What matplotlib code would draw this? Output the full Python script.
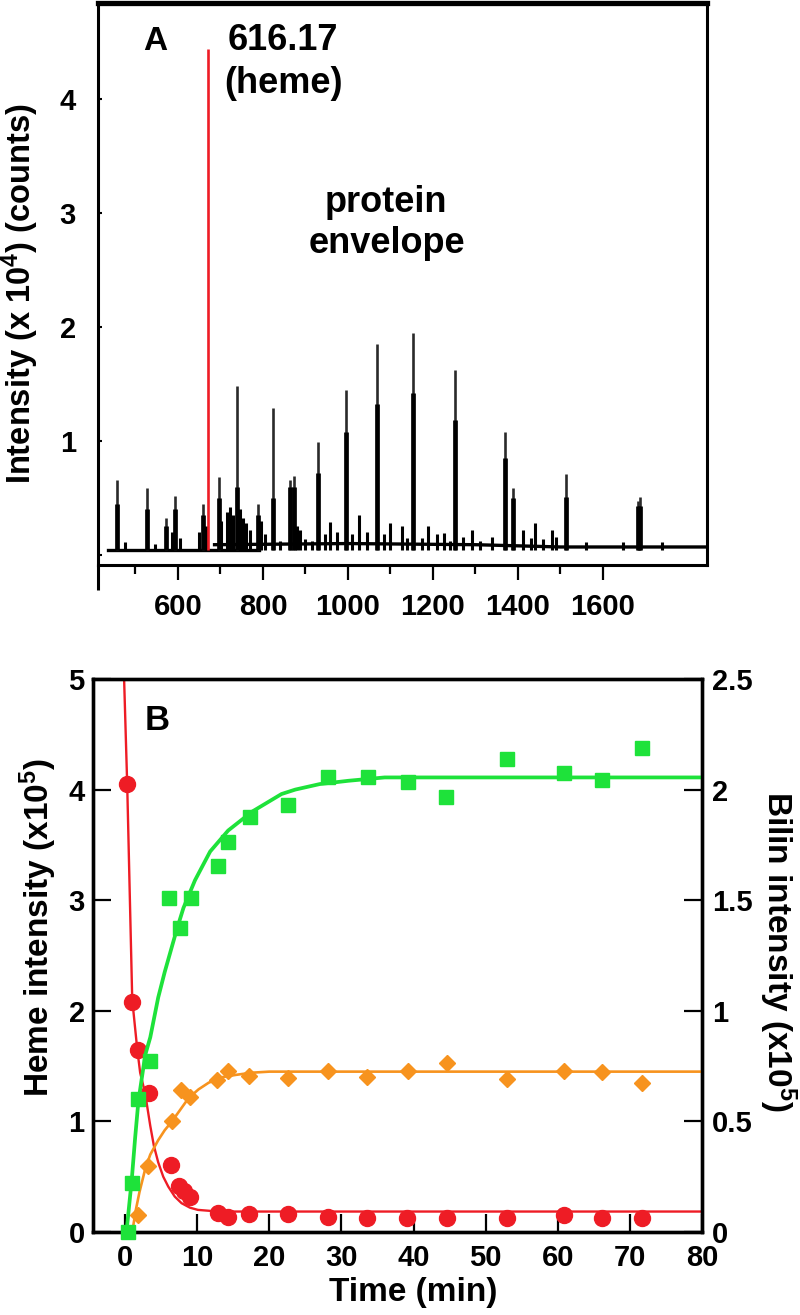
import matplotlib
matplotlib.use('Agg')
import matplotlib.pyplot as plt

plt.rcParams['font.family'] = ['Liberation Sans', 'DejaVu Sans']
plt.rcParams['font.weight'] = 'bold'
plt.rcParams['mathtext.fontset'] = 'custom'
plt.rcParams['mathtext.rm'] = 'Liberation Sans:bold'
plt.rcParams['mathtext.it'] = 'Liberation Sans:bold'
plt.rcParams['mathtext.bf'] = 'Liberation Sans:bold'
plt.rcParams['mathtext.default'] = 'rm'

# ---------------- Panel A data (m/z spectrum, intensity x 10^4) ----------------
major_mz = [456, 526, 571, 593, 660, 697, 738, 789, 824, 863, 872, 930, 995, 1068, 1154, 1252, 1369, 1388, 1513, 1683, 1688]
major_top = [0.66, 0.59, 0.32, 0.52, 0.45, 0.68, 1.48, 0.45, 1.29, 0.66, 0.69, 0.99, 1.45, 1.85, 1.95, 1.62, 1.08, 0.59, 0.71, 0.47, 0.51]
major_shoulder = [0.45, 0.40, 0.25, 0.40, 0.35, 0.50, 0.60, 0.35, 0.50, 0.60, 0.60, 0.72, 1.08, 1.32, 1.42, 1.18, 0.85, 0.50, 0.51, 0.43, 0.43]

minor_mz = [475, 545, 585, 605, 650, 665, 702, 715, 722, 730, 745, 752, 760, 770, 795, 805, 840, 880, 887,
            900, 915, 945, 958, 975, 1010, 1027, 1045, 1085, 1099, 1126, 1140, 1175, 1189, 1210, 1225, 1240,
            1270, 1292, 1310, 1340, 1412, 1430, 1440, 1460, 1479, 1490, 1560, 1646, 1738]
minor_int = [0.11, 0.10, 0.20, 0.15, 0.20, 0.25, 0.30, 0.38, 0.42, 0.35, 0.40, 0.32, 0.28, 0.22, 0.30, 0.18, 0.12, 0.25, 0.22,
             0.14, 0.12, 0.18, 0.29, 0.20, 0.18, 0.35, 0.20, 0.18, 0.28, 0.25, 0.15, 0.15, 0.25, 0.18, 0.19, 0.12,
             0.16, 0.22, 0.12, 0.16, 0.22, 0.15, 0.28, 0.14, 0.22, 0.16, 0.11, 0.11, 0.11]

low_base_mz = [435, 790]
low_base_int = [0.04, 0.04]
high_base_mz = [686, 1000, 1300, 1500, 1845]
high_base_int = [0.09, 0.10, 0.09, 0.07, 0.07]

heme_mz = 670
heme_top = 4.44

xticksA = [600, 800, 1000, 1200, 1400, 1600]
xminorA = [500, 700, 900, 1100, 1300, 1500]
yticksA = [0, 1, 2, 3, 4]
yticklabelsA = ['', '1', '2', '3', '4']

# ---------------- Panel B data ----------------
heme_t = [0.3, 1.0, 1.85, 3.3, 6.4, 7.5, 8.2, 9.0, 12.9, 14.3, 17.2, 22.6, 28.2, 33.5, 39.1, 44.6, 53.0, 60.8, 66.1, 71.7]
heme_v = [4.05, 2.08, 1.65, 1.26, 0.61, 0.42, 0.37, 0.32, 0.17, 0.14, 0.16, 0.16, 0.14, 0.13, 0.13, 0.13, 0.13, 0.15, 0.13, 0.13]
heme_fit_t = [-0.15, 0.3, 1.0, 1.7, 2.1, 2.8, 3.5, 4.0, 4.6, 5.3, 6.0, 6.9, 7.85, 9.0, 10.1, 12.0, 14.5, 80]
heme_fit_v = [5.05, 4.05, 2.1, 1.65, 1.44, 1.25, 0.96, 0.78, 0.63, 0.50, 0.41, 0.32, 0.26, 0.22, 0.20, 0.19, 0.185, 0.185]

green_t = [0.4, 0.9, 1.85, 3.5, 6.1, 7.6, 9.2, 12.9, 14.3, 17.3, 22.6, 28.2, 33.7, 39.3, 44.5, 53.0, 60.9, 66.2, 71.7]
green_v = [0.0, 0.22, 0.60, 0.775, 1.51, 1.375, 1.51, 1.655, 1.765, 1.875, 1.93, 2.055, 2.055, 2.035, 1.965, 2.14, 2.075, 2.045, 2.19]
green_fit_t = [0.2, 0.93, 1.4, 1.85, 2.8, 3.5, 4.6, 5.5, 6.5, 7.2, 8.1, 9.7, 11.8, 14.3, 17.6, 21.7, 23.6, 27, 31, 36, 80]
green_fit_v = [0.0, 0.235, 0.425, 0.59, 0.80, 0.88, 1.06, 1.175, 1.29, 1.37, 1.465, 1.59, 1.72, 1.815, 1.90, 1.98, 2.0, 2.025, 2.04, 2.055, 2.055]

orange_t = [1.85, 3.2, 6.5, 7.75, 9.0, 12.7, 14.3, 17.2, 22.6, 28.2, 33.5, 39.3, 44.6, 53.0, 60.8, 66.2, 71.7]
orange_v = [0.075, 0.30, 0.50, 0.64, 0.61, 0.685, 0.73, 0.705, 0.695, 0.73, 0.70, 0.73, 0.765, 0.69, 0.73, 0.725, 0.675]
orange_fit_t = [1.0, 1.5, 2.0, 2.8, 3.5, 4.6, 5.5, 6.5, 7.6, 8.8, 10.2, 11.6, 13.5, 15.3, 17.5, 20, 80]
orange_fit_v = [0.0, 0.10, 0.18, 0.285, 0.35, 0.415, 0.46, 0.50, 0.55, 0.605, 0.645, 0.675, 0.70, 0.71, 0.72, 0.725, 0.725]

xticksB = [0, 10, 20, 30, 40, 50, 60, 70, 80]
yticksB_left = [0, 1, 2, 3, 4, 5]
yticksB_right = [0, 0.5, 1, 1.5, 2, 2.5]
yticklabelsB_right = ['0', '0.5', '1', '1.5', '2', '2.5']

RED = '#EE1C25'
GREEN = '#1EE23A'
ORANGE = '#F7931E'

W, H = 800, 1315
fig = plt.figure(figsize=(W / 100, H / 100), dpi=100)


def fpos(x, y):
    return x / W, 1 - y / H


# ---------------- Panel A ----------------
axA = fig.add_axes([98 / W, 1 - 565 / H, 609 / W, 562 / H])
axA.set_xlim(411.8, 1844.7)
axA.set_ylim(-0.088, 4.84)

axA.plot(low_base_mz, low_base_int, color='k', lw=2.4)
axA.plot(high_base_mz, high_base_int, color='k', lw=2.4)
axA.vlines(minor_mz, 0.04, minor_int, color='k', lw=2.2)
axA.vlines(major_mz, 0.04, major_top, color='#2a2a2a', lw=1.9)
axA.vlines(major_mz, 0.04, major_shoulder, color='k', lw=3.4)
axA.vlines([heme_mz], 0.04, [heme_top], color=RED, lw=1.9)

for side in ['left', 'right', 'bottom']:
    axA.spines[side].set_linewidth(2.2)
axA.spines['top'].set_linewidth(3.8)
axA.plot([0, 0], [-25 / 562, 0], transform=axA.transAxes, color='k', lw=2.2,
         clip_on=False, solid_capstyle='butt')

axA.set_xticks(xticksA)
axA.set_xticks(xminorA, minor=True)
axA.set_yticks(yticksA)
axA.set_yticklabels(yticklabelsA)
axA.tick_params(axis='x', which='major', direction='out', length=11, width=1.6, labelsize=21, pad=9)
axA.tick_params(axis='x', which='minor', direction='out', length=6.5, width=1.6)
axA.tick_params(axis='y', which='major', direction='in', length=3, width=1.5, labelsize=21, pad=16)
for lab in axA.get_xticklabels() + axA.get_yticklabels():
    lab.set_fontweight('bold')

fig.text(*fpos(20, 294), 'Intensity (x 10$^4$) (counts)', rotation=90, ha='center', va='center',
         fontsize=23.5, fontweight='bold')
fig.text(*fpos(155, 50), 'A', ha='center', va='baseline', fontsize=24, fontweight='bold')
fig.text(*fpos(283, 50), '616.17', ha='center', va='baseline', fontsize=26, fontweight='bold')
fig.text(*fpos(283, 93), '(heme)', ha='center', va='baseline', fontsize=26, fontweight='bold')
fig.text(*fpos(386, 212), 'protein', ha='center', va='baseline', fontsize=26, fontweight='bold')
fig.text(*fpos(387, 253), 'envelope', ha='center', va='baseline', fontsize=26, fontweight='bold')

# ---------------- Panel B ----------------
axB = fig.add_axes([93 / W, 1 - 1232 / H, 609 / W, 553 / H])
axB.set_xlim(-4.44, 80)
axB.set_ylim(0, 5)
ax2 = axB.twinx()
ax2.set_ylim(0, 2.5)

axB.plot(heme_fit_t, heme_fit_v, color=RED, lw=1.7, zorder=2)
ax2.plot(orange_fit_t, orange_fit_v, color=ORANGE, lw=1.9, zorder=2)
ax2.plot(green_fit_t, green_fit_v, color=GREEN, lw=2.7, zorder=2)
axB.plot(heme_t, heme_v, 'o', color=RED, ms=11.5, mec=RED, zorder=3, clip_on=False)
ax2.plot(orange_t, orange_v, 'D', color=ORANGE, ms=8.5, mec=ORANGE, zorder=3, clip_on=False)
ax2.plot(green_t, green_v, 's', color=GREEN, ms=10.5, mec=GREEN, zorder=4, clip_on=False)

for a in (axB, ax2):
    for side in ['left', 'right', 'bottom', 'top']:
        a.spines[side].set_linewidth(2.4)

axB.set_xticks(xticksB)
axB.set_yticks(yticksB_left)
ax2.set_yticks(yticksB_right)
ax2.set_yticklabels(yticklabelsB_right)
axB.tick_params(axis='x', direction='in', length=13, width=1.6, labelsize=21, pad=9)
axB.tick_params(axis='y', direction='in', length=13, width=1.6, labelsize=21, pad=6)
ax2.tick_params(axis='y', direction='in', length=13, width=1.6, labelsize=21, pad=7)
for lab in axB.get_xticklabels() + axB.get_yticklabels() + ax2.get_yticklabels():
    lab.set_fontweight('bold')

fig.text(*fpos(157, 730), 'B', ha='center', va='baseline', fontsize=25, fontweight='bold')
fig.text(*fpos(38, 927), 'Heme intensity (x10$^5$)', rotation=90, ha='center', va='center',
         fontsize=24, fontweight='bold')
fig.text(*fpos(778, 951), 'Bilin intensity (x10$^5$)', rotation=270, ha='center', va='center',
         fontsize=24, fontweight='bold')
fig.text(*fpos(413, 1293), 'Time (min)', ha='center', va='center', fontsize=24, fontweight='bold')

fig.savefig('out.png', dpi=100)
